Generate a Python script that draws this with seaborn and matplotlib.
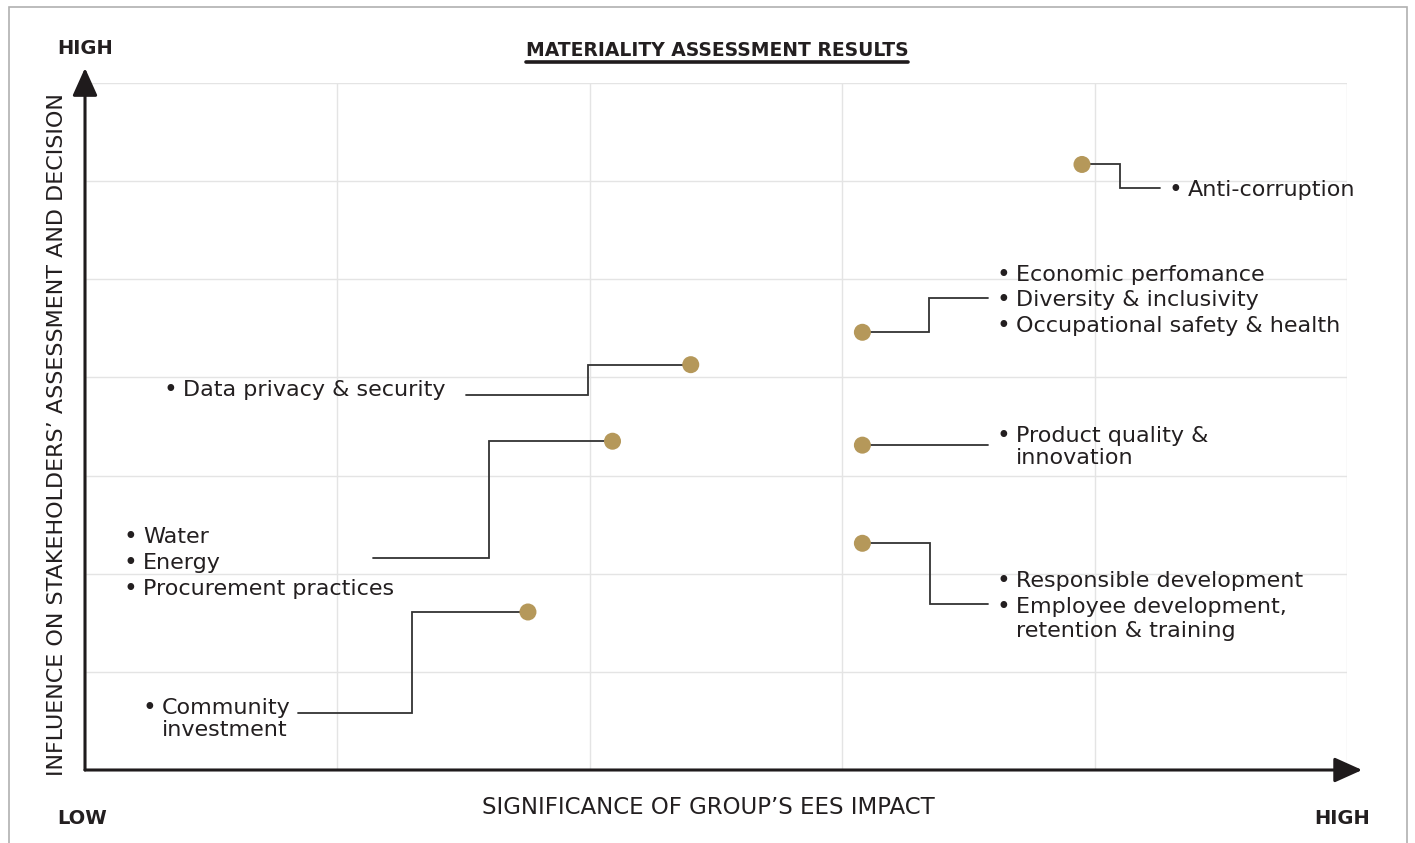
import matplotlib
matplotlib.use("Agg")
import matplotlib.pyplot as plt
import seaborn as sns
import pandas as pd
from matplotlib.patches import Rectangle
from matplotlib.lines import Line2D

# ---------------- data ----------------
topic_groups = [
    "Anti-corruption",
    "Economic / Diversity / Occupational",
    "Product quality & innovation",
    "Responsible / Employee development",
    "Data privacy & security",
    "Water / Energy / Procurement",
    "Community investment",
]
significance = [3.95, 3.08, 3.08, 3.08, 2.40, 2.09, 1.755]   # x: significance of EES impact
influence = [6.17, 4.46, 3.31, 2.31, 4.13, 3.35, 1.61]       # y: influence on stakeholders

label_lines = [
    [("Anti-corruption", True)],
    [("Economic perfomance", True), ("Diversity & inclusivity", True), ("Occupational safety & health", True)],
    [("Product quality &", True), ("innovation", False)],
    [("Responsible development", True), ("Employee development,", True), ("retention & training", False)],
    [("Data privacy & security", True)],
    [("Water", True), ("Energy", True), ("Procurement practices", True)],
    [("Community", True), ("investment", False)],
]

# ---------------- layout (annotation placement) ----------------
elbow_x = [4.10, 3.344, 3.344, 3.348, 1.993, 1.60, 1.296]
leader_y = [5.93, 4.81, 3.31, 1.69, 3.82, 2.16, 0.58]
leader_end_x = [4.26, 3.578, 3.578, 3.578, 1.51, 1.141, 0.844]
label_x = [4.37, 3.689, 3.689, 3.689, 0.388, 0.230, 0.305]
label_baselines = [
    [5.844],
    [4.978, 4.723, 4.458],
    [3.347, 3.113],
    [1.860, 1.595, 1.360],
    [3.806],
    [2.308, 2.043, 1.788],
    [0.566, 0.342],
]

GOLD = "#b5985a"
INK = "#231f20"
LINE = "#333333"
GRID = "#e4e4e4"

sns.set_style("white")
plt.rcParams["font.family"] = ["DejaVu Sans"]

W, H = 1415, 843
fig = plt.figure(figsize=(W / 100, H / 100), dpi=100)
x0, x1, y0, y1 = 85, 1347, 770, 83
ax = fig.add_axes([x0 / W, 1 - y0 / H, (x1 - x0) / W, (y0 - y1) / H])
ax.set_xlim(0, 5)
ax.set_ylim(0, 7)
ax.set_xticks(range(6))
ax.set_yticks(range(8))
ax.tick_params(length=0, labelbottom=False, labelleft=False)
ax.grid(True, color=GRID, lw=1.0)
for s in ax.spines.values():
    s.set_visible(False)
ax.set_axisbelow(True)

# axes arrows
arrow_kw = dict(arrowstyle="-|>,head_length=1.0,head_width=0.45", mutation_scale=17,
                color="#1f1b1c", lw=2.2, shrinkA=0, shrinkB=0)
ax.annotate("", xy=(5.06, 0), xytext=(0, 0), arrowprops=arrow_kw, annotation_clip=False)
ax.annotate("", xy=(0, 7.153), xytext=(0, 0), arrowprops=arrow_kw, annotation_clip=False)

# connectors
for i in range(len(topic_groups)):
    xs = [significance[i], elbow_x[i], elbow_x[i], leader_end_x[i]]
    ys = [influence[i], influence[i], leader_y[i], leader_y[i]]
    ax.plot(xs, ys, color=LINE, lw=1.3, solid_joinstyle="miter", zorder=3, clip_on=False)

df = pd.DataFrame({"topic": topic_groups, "significance": significance, "influence": influence})
sns.scatterplot(data=df, x="significance", y="influence", s=150, color=GOLD,
                edgecolor="none", zorder=4, ax=ax, clip_on=False)
ax.set_xlabel("")
ax.set_ylabel("")

# labels
bullet_off = 0.05
fs = 16
for i, lines in enumerate(label_lines):
    for (txt, bullet), yb in zip(lines, label_baselines[i]):
        ax.text(label_x[i], yb, txt, fontsize=fs, color=INK, va="baseline", ha="left")
        if bullet:
            ax.text(label_x[i] - bullet_off, yb, "\u2022", fontsize=fs * 1.05, color=INK,
                    va="baseline", ha="center")

# figure texts
title = fig.text(717 / W, 1 - 50 / H, "MATERIALITY ASSESSMENT RESULTS", ha="center", va="center",
                 fontsize=13.5, fontweight="bold", color=INK)
fig.text(57 / W, 1 - 49 / H, "HIGH", ha="left", va="center", fontsize=14, fontweight="bold", color=INK)
fig.text(57 / W, 1 - 818 / H, "LOW", ha="left", va="center", fontsize=14, fontweight="bold", color=INK)
fig.text(1370 / W, 1 - 818 / H, "HIGH", ha="right", va="center", fontsize=14, fontweight="bold", color=INK)
fig.text(708 / W, 1 - 808 / H, "SIGNIFICANCE OF GROUP\u2019S EES IMPACT", ha="center", va="center",
         fontsize=16.5, color=INK)
fig.text(57 / W, 1 - 435 / H, "INFLUENCE ON STAKEHOLDERS\u2019 ASSESSMENT AND DECISION", ha="center",
         va="center", rotation=90, fontsize=16, color=INK)

# border
fig.add_artist(Rectangle((9 / W, -0.05), (1407 - 9) / W, 1.05 - 7 / H, transform=fig.transFigure,
                         fill=False, edgecolor="#b0b0b0", lw=1.2))

# title underline
fig.canvas.draw()
bb = title.get_window_extent(fig.canvas.get_renderer())
uy = 1 - 62 / H
fig.add_artist(Line2D([bb.x0 / W, bb.x1 / W], [uy, uy], transform=fig.transFigure,
                      color="#1f1b1c", lw=2.6))

fig.savefig("out.png", dpi=100)
